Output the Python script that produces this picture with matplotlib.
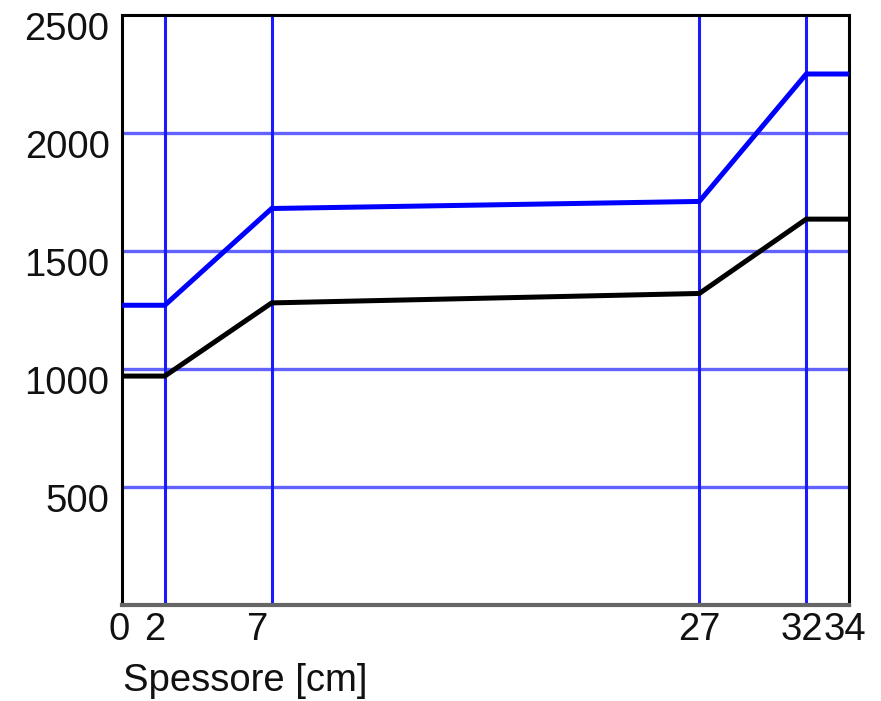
import matplotlib
matplotlib.use("Agg")
import matplotlib.pyplot as plt
from matplotlib.transforms import ScaledTranslation

# Layer boundaries (cm) and the two profiles
spessore = [0, 2, 7, 27, 32, 34]
curva_blu = [1270, 1270, 1680, 1710, 2250, 2250]
curva_nera = [970, 970, 1280, 1320, 1635, 1635]

x_ticks = [0, 2, 7, 27, 32, 34]
x_tick_labels = ["0", "2", "7", "27", "32", "34"]
y_ticks = [500, 1000, 1500, 2000, 2500]
y_tick_labels = ["500", "1000", "1500", "2000", "2500"]
x_label = "Spessore [cm]"

plt.rcParams["font.family"] = ["Liberation Sans", "DejaVu Sans"]

fig = plt.figure(figsize=(8.81, 7.01), dpi=100)
ax = fig.add_axes([0.1385, 0.137, 0.8252, 0.8416])

ax.set_xlim(0, 34)
ax.set_ylim(0, 2500)

# grid: horizontal at y ticks, vertical at layer boundaries
for y in y_ticks[:-1]:
    ax.axhline(y, color="#6262ff", lw=2.4, zorder=1)
for x in x_ticks[1:-1]:
    ax.axvline(x, color="#1a1aff", lw=2.2, zorder=1)

ax.plot(spessore, curva_blu, color="#0000ff", lw=3.6, zorder=3,
        solid_joinstyle="miter")
ax.plot(spessore, curva_nera, color="#000000", lw=3.6, zorder=3,
        solid_joinstyle="miter")

ax.set_xticks(x_ticks)
ax.set_xticklabels(x_tick_labels)
ax.set_yticks(y_ticks)
ax.set_yticklabels(y_tick_labels)
ax.tick_params(axis="both", length=0, labelsize=27.5, colors="#111111")
ax.tick_params(axis="x", pad=5)
ax.tick_params(axis="y", pad=9)

# nudge crowded x labels
shifts = {"0": -3, "2": -10, "7": -14, "32": -4, "34": -4}
for lbl in ax.get_xticklabels():
    dx = shifts.get(lbl.get_text(), 0)
    lbl.set_transform(lbl.get_transform() +
                      ScaledTranslation(dx / 100, 0, fig.dpi_scale_trans))

# y labels sit a little below their grid lines
for lbl in ax.get_yticklabels():
    lbl.set_transform(lbl.get_transform() +
                      ScaledTranslation(0, -11 / 100, fig.dpi_scale_trans))

for side in ("left", "top", "right"):
    ax.spines[side].set_color("#000000")
    ax.spines[side].set_linewidth(2.2)
ax.spines["bottom"].set_color("#666666")
ax.spines["bottom"].set_linewidth(3)

fig.text(123 / 881, 1 - 691 / 701, x_label, fontsize=27.5, color="#111111",
         ha="left", va="baseline")

fig.savefig("out.png", dpi=100, facecolor="white")
